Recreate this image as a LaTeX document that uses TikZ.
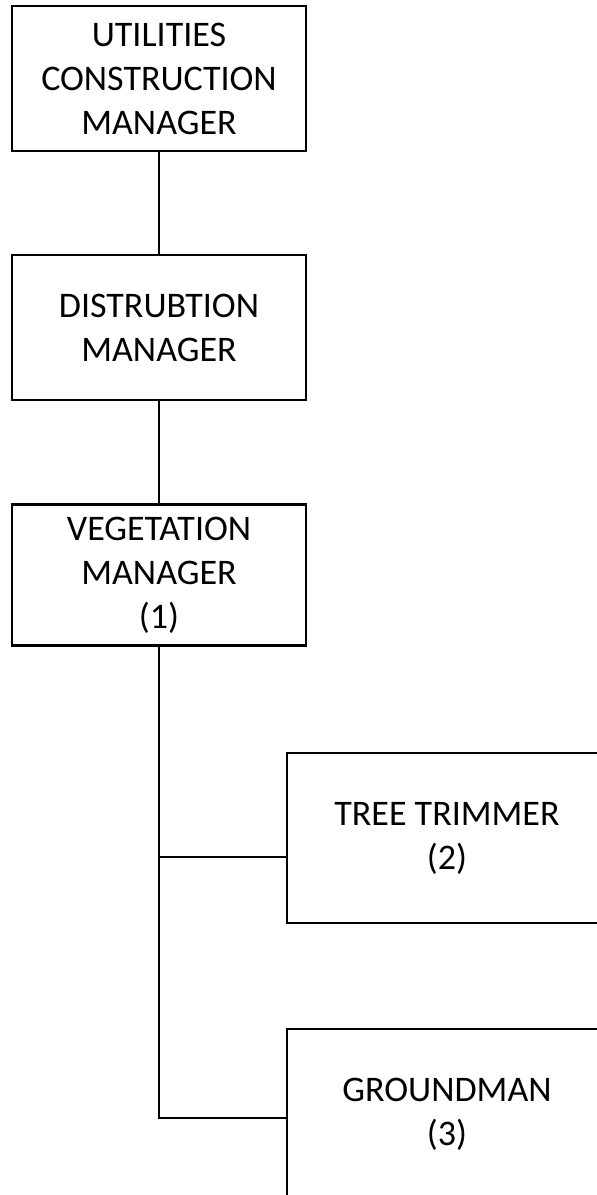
\documentclass[tikz,border=0pt]{standalone}
\usepackage{fontspec}
\setmainfont{Carlito}
\usetikzlibrary{positioning}

\begin{document}
\begin{tikzpicture}[x=1pt, y=1pt, node distance=102pt,
  box/.style={draw, line width=2.2pt, align=center, inner sep=0pt,
    font=\fontsize{36}{44}\selectfont, minimum width=294pt, minimum height=145pt},
  crew/.style={box, minimum width=320pt, minimum height=170pt},
  link/.style={line width=1.5pt}]
  \path[use as bounding box] (0,0) rectangle (597,-1195);
  \clip (0,0) rectangle (597,-1195);

  \node[box] (ucm) at (159,-78.5) {UTILITIES\\CONSTRUCTION\\MANAGER};
  \node[box, below = of ucm] (dm) {DISTRUBTION\\MANAGER};
  \node[box, minimum height=141pt, below = of dm] (vm) {VEGETATION\\MANAGER\\(1)};

  \node[crew] (tt) at (447,-838) {TREE TRIMMER\\(2)};
  \node[crew] (gm) at (447,-1114) {GROUNDMAN\\(3)};

  % branch points on the vertical line
  \coordinate (tjoin) at (vm.south |- 0,-857);
  \coordinate (gjoin) at (vm.south |- 0,-1118);

  \draw[link] (ucm) -- (dm);
  \draw[link] (dm) -- (vm);
  \draw[link] (vm) -- (gjoin) -- (gjoin -| gm.west);
  \draw[link] (tjoin) -- (tjoin -| tt.west);
\end{tikzpicture}
\end{document}
